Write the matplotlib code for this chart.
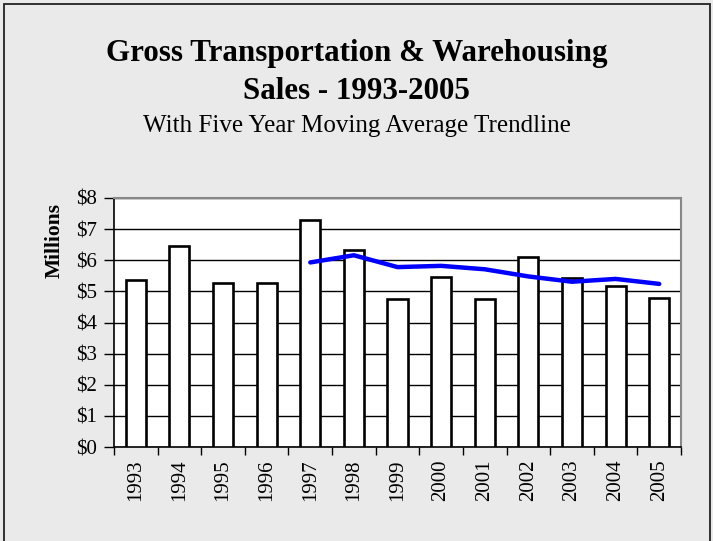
import matplotlib.pyplot as plt
import matplotlib.patches as mpatches
import numpy as np

# data (millions of dollars)
years = ["1993", "1994", "1995", "1996", "1997", "1998", "1999",
         "2000", "2001", "2002", "2003", "2004", "2005"]
sales = [5.36, 6.46, 5.28, 5.26, 7.29, 6.33, 4.75,
         5.46, 4.77, 6.09, 5.44, 5.17, 4.80]

# five year moving average, starts at 1997
trend_years = ["1997", "1998", "1999", "2000", "2001", "2002", "2003", "2004", "2005"]
trend_vals = [5.93, 6.16, 5.78, 5.82, 5.71, 5.48, 5.31, 5.40, 5.24]

yticks = [0, 1, 2, 3, 4, 5, 6, 7, 8]
ytick_labels = ["$0", "$1", "$2", "$3", "$4", "$5", "$6", "$7", "$8"]

W, H = 713, 541
bg = "#eaeaea"
serif = ["Liberation Serif", "DejaVu Serif"]

fig = plt.figure(figsize=(W / 100, H / 100), dpi=100)
fig.patch.set_facecolor(bg)

# outer chart border
fig.patches.append(mpatches.Rectangle((4 / W, -0.01), 706 / W, 1 - 4 / H + 0.01,
                                      transform=fig.transFigure, fill=False,
                                      edgecolor="#222222", linewidth=1.3))

ax = fig.add_axes([114 / W, 1 - 447 / H, (681 - 114) / W, (447 - 198) / H])
ax.set_facecolor("white")

x = np.arange(len(years))
ax.bar(x, sales, width=0.46, color="white", edgecolor="black", linewidth=1.9, zorder=3)

tx = [years.index(y) for y in trend_years]
ax.plot(tx, trend_vals, color="#0000ff", linewidth=3.2, solid_capstyle="round", zorder=4)

ax.set_xlim(-0.5, len(years) - 0.5)
ax.set_ylim(0, 8)

ax.set_yticks(yticks)
ax.set_yticklabels(ytick_labels, fontfamily=serif, fontsize=15)
ax.yaxis.grid(True, color="black", linewidth=1.0, zorder=1)
ax.set_axisbelow(True)

ax.set_xticks(x)
ax.set_xticklabels(years, rotation=90, fontfamily=serif, fontsize=15)
ax.tick_params(axis="x", length=0, pad=9)
ax.set_xticks(np.arange(-0.5, len(years)), minor=True)
ax.tick_params(axis="x", which="minor", length=6, width=1.0, color="black", direction="out")
ax.tick_params(axis="y", length=7, width=1.0, direction="out", pad=5)

for s in ["top", "right"]:
    ax.spines[s].set_color("#888888")
    ax.spines[s].set_linewidth(1.5)
for s in ["left", "bottom"]:
    ax.spines[s].set_color("black")
    ax.spines[s].set_linewidth(1.2)

# y label sits near the top of the axis, like the original
ax.set_ylabel("Millions", fontfamily=serif, fontsize=15.5, fontweight="bold")
ax.yaxis.set_label_coords(-0.087, 0.83)

fig.text(0.5, 1 - 53 / H, "Gross Transportation & Warehousing", ha="center", va="center",
         fontfamily=serif, fontsize=22.3, fontweight="bold")
fig.text(0.5, 1 - 92 / H, "Sales - 1993-2005", ha="center", va="center",
         fontfamily=serif, fontsize=22.3, fontweight="bold")
fig.text(0.5, 1 - 126 / H, "With Five Year Moving Average Trendline", ha="center", va="center",
         fontfamily=serif, fontsize=18)

fig.savefig("out.png", dpi=100, facecolor=bg)
